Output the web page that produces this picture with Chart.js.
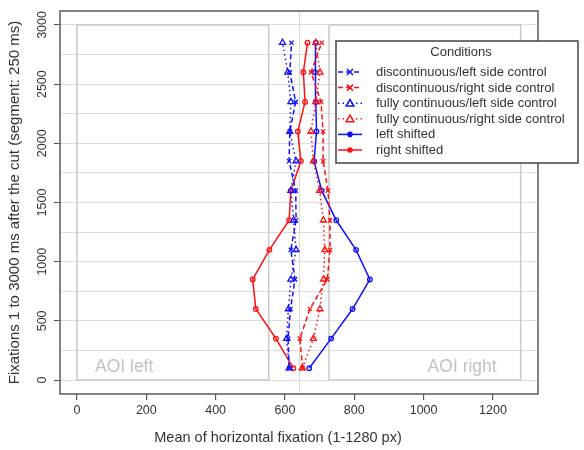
<!DOCTYPE html>
<html><head><meta charset="utf-8">
<script src="https://cdn.jsdelivr.net/npm/chart.js@4/dist/chart.umd.min.js"></script>
<style>html,body{margin:0;padding:0;background:#fff}#wrap{width:584px;height:450px}</style>
</head><body><div id="wrap"><canvas id="c" width="584" height="450"></canvas></div>
<script>
// Segment midpoints (ms after the cut)
const segments = [100, 350, 600, 850, 1100, 1350, 1600, 1850, 2100, 2350, 2600, 2850];
// Mean horizontal fixation (px) per condition
const discontinuousLeft  = [612, 609, 616, 629, 617, 632, 631, 612, 614, 631, 614, 619];
const discontinuousRight = [651, 643, 672, 722, 730, 730, 724, 710, 710, 704, 675, 706];
const fullyLeft          = [612, 605, 610, 617, 632, 625, 617, 632, 614, 617, 608, 593];
const fullyRight         = [650, 682, 701, 711, 715, 711, 700, 682, 675, 689, 701, 689];
const leftShifted        = [670, 733, 795, 845, 805, 748, 706, 684, 691, 689, 687, 689];
const rightShifted       = [624, 574, 516, 507, 555, 612, 617, 646, 637, 658, 653, 665];
const seriesNames = ['discontinuous/left side control','discontinuous/right side control','fully continuous/left side control','fully continuous/right side control','left shifted','right shifted'];
// Tick values
const xTickValues = [0, 200, 400, 600, 800, 1000, 1200];
const yGridValues = [0, 250, 500, 750, 1000, 1250, 1500, 1750, 2000, 2250, 2500, 2750, 3000];
const yLabelValues = [0, 500, 1000, 1500, 2000, 2500, 3000];
// Areas of interest and screen centre
const aoiLeftRange = [0, 553];
const aoiRightRange = [727, 1280];
const aoiTimeRange = [0, 3000];
const screenCenter = 640;
const aoiLabels = ['AOI left', 'AOI right'];
const xTitle = 'Mean of horizontal fixation (1-1280 px)';
const yTitle = 'Fixations 1 to 3000 ms after the cut (segment: 250 ms)';

const FONT = '"Liberation Sans", Arial, sans-serif';
const BLUE = '#1010ff', RED = '#ff1010';
const pts = arr => arr.map((v, i) => ({x: v, y: segments[i]}));

const styles = [
  {c: BLUE, dash: [5, 3], pt: 'crossRot', r: 3},
  {c: RED, dash: [5, 3], pt: 'crossRot', r: 3},
  {c: BLUE, dash: [1.5, 3], pt: 'triangle', r: 3.5},
  {c: RED, dash: [1.5, 3], pt: 'triangle', r: 3.5},
  {c: BLUE, dash: [], pt: 'circle', r: 2.3},
  {c: RED, dash: [], pt: 'circle', r: 2.3}
];
const seriesData = [discontinuousLeft, discontinuousRight, fullyLeft, fullyRight, leftShifted, rightShifted];

const datasets = seriesData.map((d, i) => ({
  label: seriesNames[i],
  data: pts(d),
  showLine: true,
  borderColor: styles[i].c,
  borderWidth: 1.5,
  borderDash: styles[i].dash,
  pointStyle: styles[i].pt,
  pointRadius: styles[i].r,
  pointBorderColor: styles[i].c,
  pointBackgroundColor: 'rgba(255,255,255,0)',
  pointBorderWidth: 1.3,
  tension: 0
}));

function drawMarker(ctx, style, x, y, color, filled) {
  ctx.save();
  ctx.strokeStyle = color; ctx.fillStyle = color; ctx.lineWidth = 1.5; ctx.setLineDash([]);
  ctx.beginPath();
  if (style === 'crossRot') {
    const s = 3;
    ctx.moveTo(x - s, y - s); ctx.lineTo(x + s, y + s);
    ctx.moveTo(x + s, y - s); ctx.lineTo(x - s, y + s);
    ctx.stroke();
  } else if (style === 'triangle') {
    const s = 3.8;
    ctx.moveTo(x, y - s); ctx.lineTo(x + s, y + s * 0.75); ctx.lineTo(x - s, y + s * 0.75); ctx.closePath();
    ctx.stroke();
  } else {
    ctx.arc(x, y, 2.8, 0, Math.PI * 2);
    if (filled) ctx.fill(); else ctx.stroke();
  }
  ctx.restore();
}

const decor = {
  id: 'decor',
  beforeDatasetsDraw(chart) {
    const {ctx, chartArea: a, scales: {x, y}} = chart;
    ctx.save();
    ctx.strokeStyle = '#d6d6d6'; ctx.lineWidth = 1;
    const cx = Math.round(x.getPixelForValue(screenCenter)) + 0.5;
    ctx.beginPath(); ctx.moveTo(cx, a.top); ctx.lineTo(cx, a.bottom); ctx.stroke();
    ctx.strokeStyle = '#c9c9c9'; ctx.lineWidth = 1.5;
    const yT = y.getPixelForValue(aoiTimeRange[1]), yB = y.getPixelForValue(aoiTimeRange[0]);
    [aoiLeftRange, aoiRightRange].forEach(r => {
      const x0 = x.getPixelForValue(r[0]), x1 = x.getPixelForValue(r[1]);
      ctx.strokeRect(x0, yT, x1 - x0, yB - yT);
    });
    ctx.font = '17.5px ' + FONT; ctx.fillStyle = '#c2c2c2'; ctx.textBaseline = 'middle';
    const ly = y.getPixelForValue(aoiTimeRange[0]) - 13;
    ctx.textAlign = 'left';
    ctx.fillText(aoiLabels[0], x.getPixelForValue(aoiLeftRange[0]) + 18, ly);
    ctx.textAlign = 'right';
    ctx.fillText(aoiLabels[1], x.getPixelForValue(aoiRightRange[1]) - 24, ly);
    ctx.restore();
  },
  afterDraw(chart) {
    const {ctx, chartArea: a} = chart;
    ctx.save();
    ctx.strokeStyle = '#5a5a5a'; ctx.lineWidth = 1.5; ctx.setLineDash([]);
    ctx.strokeRect(a.left, a.top, a.right - a.left, a.bottom - a.top);
    // x-axis title (centred on the whole graph like the original)
    ctx.fillStyle = '#333'; ctx.font = '14.5px ' + FONT; ctx.textAlign = 'center'; ctx.textBaseline = 'middle';
    ctx.fillText(xTitle, 278, 438);
    // legend
    const bx = 336, by = 41, bw = 242, bh = 122;
    ctx.fillStyle = '#fff'; ctx.fillRect(bx, by, bw, bh);
    ctx.strokeStyle = '#444'; ctx.lineWidth = 1.5; ctx.strokeRect(bx, by, bw, bh);
    ctx.fillStyle = '#333'; ctx.font = '13px ' + FONT; ctx.textBaseline = 'middle';
    ctx.textAlign = 'center'; ctx.fillText('Conditions', 461, 52);
    ctx.textAlign = 'left';
    chart.data.datasets.forEach((ds, i) => {
      const yy = 72 + i * 15.6;
      ctx.strokeStyle = ds.borderColor; ctx.lineWidth = 1.5;
      ctx.setLineDash(ds.borderDash.length ? ds.borderDash : []);
      ctx.beginPath(); ctx.moveTo(338, yy); ctx.lineTo(362, yy); ctx.stroke();
      ctx.setLineDash([]);
      drawMarker(ctx, ds.pointStyle, 350, yy, ds.borderColor, ds.pointStyle === 'circle');
      ctx.fillStyle = '#333';
      ctx.fillText(ds.label, 376, yy + 0.5);
    });
    ctx.restore();
  }
};

new Chart(document.getElementById('c'), {
  type: 'scatter',
  data: {datasets},
  options: {
    responsive: false,
    animation: false,
    layout: {padding: {top: 11, right: 46, left: 0, bottom: 0}},
    plugins: {legend: {display: false}, tooltip: {enabled: false}},
    scales: {
      x: {
        type: 'linear', min: -49, max: 1330,
        afterBuildTicks(s) { s.ticks = xTickValues.map(v => ({value: v})); },
        afterFit(s) { s.height = 56; },
        border: {display: false},
        grid: {drawOnChartArea: false, tickLength: 6, tickColor: '#555', lineWidth: 1.2},
        ticks: {color: '#333', font: {family: FONT, size: 12.5}, padding: 3, maxRotation: 0, autoSkip: false, callback: v => String(v)},
        title: {display: false}
      },
      y: {
        type: 'linear', min: -118, max: 3118,
        afterBuildTicks(s) { s.ticks = yGridValues.map(v => ({value: v})); },
        afterFit(s) { s.width = 60; },
        border: {display: false},
        grid: {
          color: '#dedede', lineWidth: 1, tickLength: 6,
          tickColor: c => (c.tick && yLabelValues.includes(c.tick.value)) ? '#555' : 'rgba(0,0,0,0)'
        },
        ticks: {
          autoSkip: false,
          minRotation: 90, maxRotation: 90, crossAlign: 'center', padding: -2,
          color: '#333', font: {family: FONT, size: 12.5},
          callback: v => (yLabelValues.includes(v) ? String(v) : '')
        },
        title: {display: true, text: yTitle, color: '#333', font: {family: FONT, size: 15}, padding: {top: 6, bottom: 0}}
      }
    }
  },
  plugins: [decor]
});
</script>
</body></html>
